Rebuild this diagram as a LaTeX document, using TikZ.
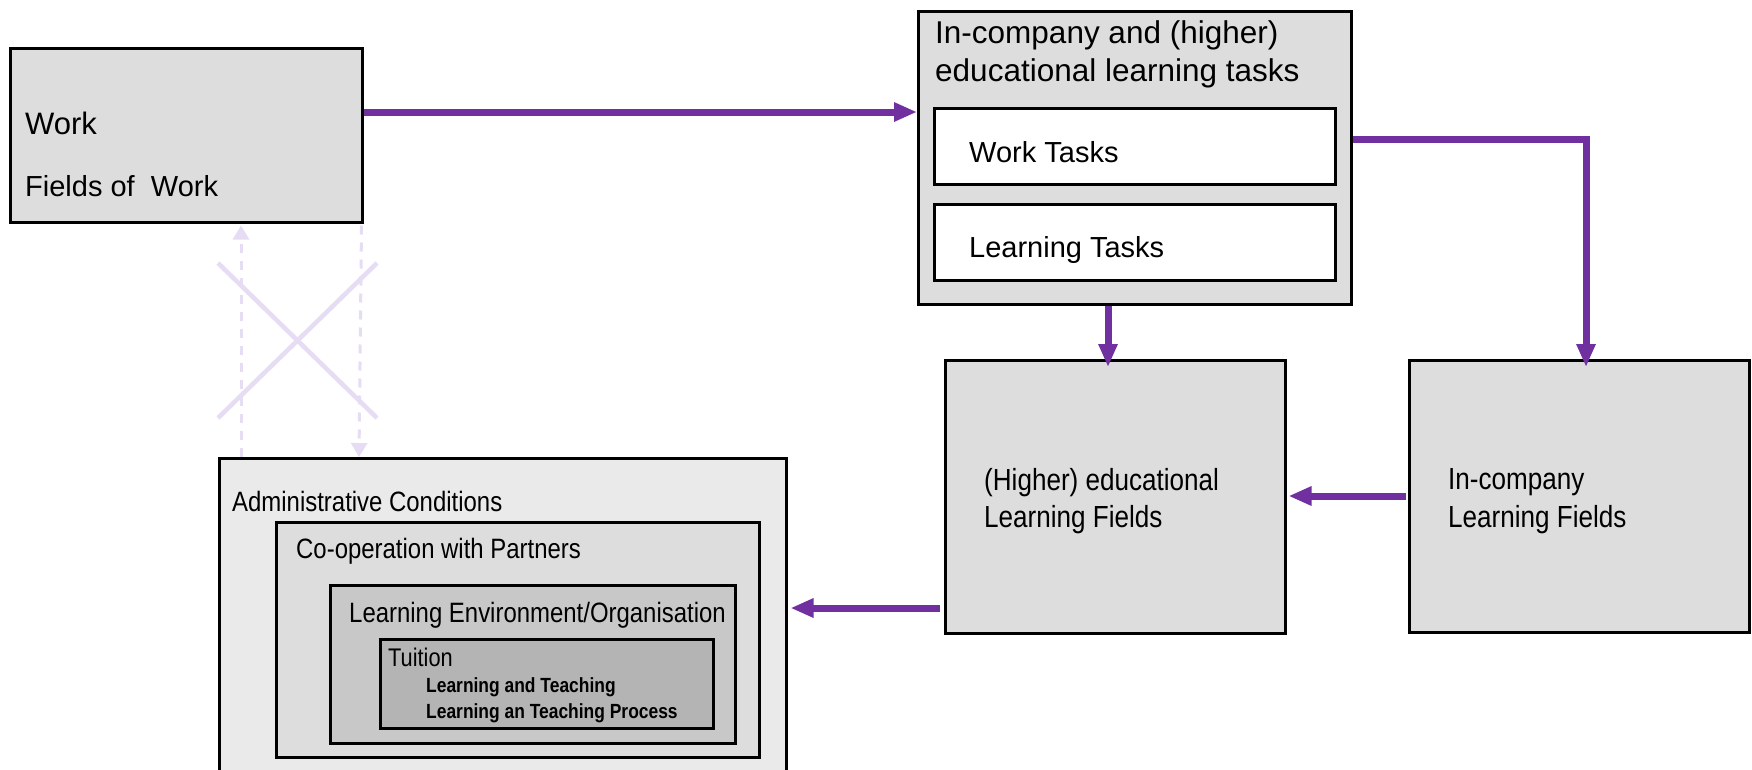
\documentclass[tikz,border=0pt]{standalone}
\usepackage{fontspec}
\setmainfont{Liberation Sans}
\newfontfamily\narrowfont[FakeStretch=0.855]{Liberation Sans}
\newfontfamily\narrowbold[FakeStretch=0.85]{Liberation Sans Bold}
\usetikzlibrary{arrows.meta,calc}
\definecolor{purp}{HTML}{7030A0}
\definecolor{lav}{HTML}{E6DCF4}
\definecolor{boxgray}{HTML}{DDDDDD}
\definecolor{admgray}{HTML}{EAEAEA}
\definecolor{envgray}{HTML}{C8C8C8}
\definecolor{tuigray}{HTML}{B4B4B4}
\tikzset{
  box/.style={draw=black, line width=2.5pt, inner sep=0pt, anchor=north west, fill=boxgray},
  txt/.style={anchor=base west, inner sep=0pt, text=black},
  flow/.style={draw=purp, line width=7pt, -{Triangle[length=23pt,width=18pt]}},
  ghost/.style={draw=lav, line width=3pt, dash pattern=on 9pt off 8pt, -{Triangle[length=14pt,width=16pt]}},
  cross/.style={draw=lav, line width=4.5pt}
}
\begin{document}
\begin{tikzpicture}[x=1pt,y=-1pt]
\useasboundingbox (0,0) rectangle (1752,769);
\fill[white] (0,0) rectangle (1752,769);
\clip (0,0) rectangle (1752,769);

% boxes
\node[box, minimum width=352pt, minimum height=174pt] (work) at (9,47) {};
\node[box, minimum width=433pt, minimum height=293pt] (tasks) at (917,10) {};
\node[box, fill=white, minimum width=401pt, minimum height=76pt] (wt) at (933,107) {};
\node[box, fill=white, minimum width=401pt, minimum height=76pt] (lt) at (933,203) {};
\node[box, minimum width=340pt, minimum height=273pt] (higher) at (944,359) {};
\node[box, minimum width=340pt, minimum height=272pt] (incomp) at (1408,359) {};
\node[box, fill=admgray, minimum width=567pt, minimum height=340pt] (admin) at (218,457) {};
\node[box, minimum width=483pt, minimum height=235pt] (coop) at (275,521) {};
\node[box, fill=envgray, minimum width=405pt, minimum height=158pt] (env) at (329,584) {};
\node[box, fill=tuigray, minimum width=333pt, minimum height=89pt] (tuition) at (379,638) {};

% texts
\node[txt, font=\fontsize{31}{36}\selectfont] (tWork) at (25,134) {Work};
\node[txt, font=\fontsize{29}{34}\selectfont] (tFields) at (25,196) {Fields of\ \ Work};
\node[txt, font=\fontsize{31.5}{38}\selectfont] (tTitleA) at (935,43) {In-company and (higher)};
\node[txt, font=\fontsize{31.5}{38}\selectfont] (tTitleB) at (935,81) {educational learning tasks};
\node[txt, font=\fontsize{29}{34}\selectfont] (tWT) at (969,162) {Work Tasks};
\node[txt, font=\fontsize{29}{34}\selectfont] (tLT) at (969,257) {Learning Tasks};
\node[txt, font=\narrowfont\fontsize{30.5}{36}\selectfont] (tHiA) at (984,490) {(Higher) educational};
\node[txt, font=\narrowfont\fontsize{30.5}{36}\selectfont] (tHiB) at (984,527) {Learning Fields};
\node[txt, font=\narrowfont\fontsize{30.5}{36}\selectfont] (tInA) at (1448,489) {In-company};
\node[txt, font=\narrowfont\fontsize{30.5}{36}\selectfont] (tInB) at (1448,527) {Learning Fields};
\node[txt, font=\narrowfont\fontsize{28}{34}\selectfont] (tAdm) at (232,511) {Administrative Conditions};
\node[txt, font=\narrowfont\fontsize{28}{34}\selectfont] (tCoop) at (296,558) {Co-operation with Partners};
\node[txt, font=\narrowfont\fontsize{28}{34}\selectfont] (tEnv) at (349,622) {Learning Environment/Organisation};
\node[txt, font=\narrowfont\fontsize{25.5}{30}\selectfont] (tTui) at (388,666) {Tuition};
\node[txt, font=\narrowbold\fontsize{20.5}{26}\selectfont] (tLaT) at (426,692) {Learning and Teaching};
\node[txt, font=\narrowbold\fontsize{20.5}{26}\selectfont] (tLTP) at (426,718) {Learning an Teaching Process};

% faint cross and dashed arrows
\draw[cross] (218,263) -- (377,418);
\draw[cross] (218,418) -- (377,263);
\draw[ghost] ($(admin.north west)+(23,0)$) -- ($(work.south west)+(232,2)$);
\draw[ghost] ($(work.south east)+(-2,2)$) -- ($(admin.north west)+(141,0)$);

% purple flows
\draw[flow] ([yshift=-65pt]work.north east) -- ([yshift=-102pt]tasks.north west);
\draw[flow] ($(tasks.south west)+(191,0)$) -- ($(higher.north west)+(164,8)$);
\draw[flow] ($(tasks.north east)+(0,129)$) -| ($(incomp.north west)+(178,8)$);
\draw[flow] ($(incomp.north west)+(-2,137)$) -- ($(higher.north east)+(2,137)$);
\draw[flow] ($(higher.north west)+(-4,249)$) -- ($(admin.north east)+(3,151)$);
\end{tikzpicture}
\end{document}
